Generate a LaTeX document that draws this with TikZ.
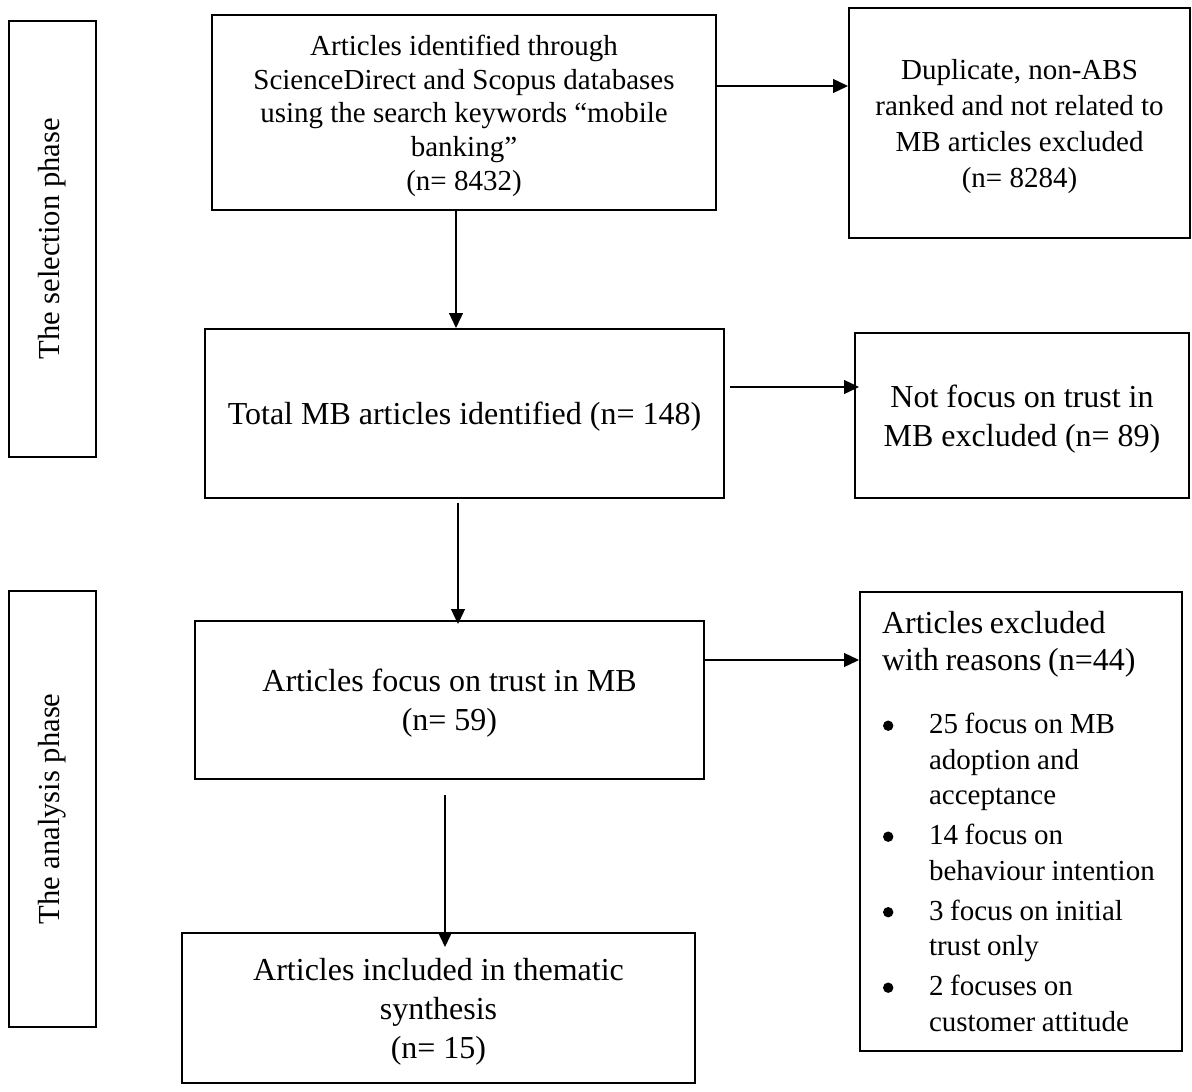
\documentclass[tikz,border=0pt]{standalone}
\usepackage{fontspec}
\setmainfont{Liberation Serif}
\usetikzlibrary{arrows.meta}

\newcommand\exclitem[1]{\par\vspace{2.25pt}\hangindent=23.5pt\hangafter=1\noindent
  \makebox[23.5pt][l]{\hspace{0.5pt}\tikz[baseline=-4pt]\fill (0,0) circle (2.6pt);}#1}

\tikzset{
  big/.style={font=\fontsize{16}{19.5}\selectfont},
  small/.style={font=\fontsize{14.5}{16.85}\selectfont},
  frame/.style={draw,line width=1pt,align=center,inner sep=0pt},
  box/.style={frame,text depth=0pt},
  phase/.style={frame,font=\fontsize{15.3}{18}\selectfont,rotate=90,minimum width=218pt,minimum height=43.5pt},
  arr/.style={-{Triangle[length=7.5pt,width=7pt]},line width=0.65pt}
}

\begin{document}
\begin{tikzpicture}[x=0.5pt,y=-0.5pt]
\useasboundingbox (0,0) rectangle (1192,1091);
\foreach \n/\y/\t in {sel/239/The selection phase,ana/809/The analysis phase}
  \node[phase](\n) at (52.5,\y) {\t};

\node[box,small,minimum width=252pt,minimum height=97.5pt](ident) at (464,112.5)
  {Articles identified through\\ScienceDirect and Scopus databases\\using the search keywords ``mobile\\banking''\\(n= 8432)};
\node[box,font=\fontsize{14.5}{18}\selectfont,minimum width=170.5pt,minimum height=115pt](dup) at (1019.5,123)
  {Duplicate, non-ABS\\ranked and not related to\\MB articles excluded\\(n= 8284)};
\node[box,big,minimum width=259.5pt,minimum height=84.5pt](total) at (464.5,413.5)
  {Total MB articles identified (n= 148)};
\node[box,big,minimum width=167pt,minimum height=82.5pt](notf) at (1022,415.5)
  {Not focus on trust in\\MB excluded (n= 89)};
\node[box,big,minimum width=254.5pt,minimum height=79pt](focus) at (449.5,700)
  {Articles focus on trust in MB\\(n= 59)};
\node[box,big,minimum width=256.5pt,minimum height=75pt](incl) at (438.5,1008)
  {Articles included in thematic\\synthesis\\(n= 15)};
\node[frame,align=left,text width=139pt,inner xsep=11pt,minimum width=161pt,minimum height=229.5pt](excl) at (1021,821.5)
  {{\fontsize{16}{18.5}\selectfont Articles excluded\\with reasons (n=44)\par}
   \fontsize{14.5}{17.75}\selectfont\vspace{11.5pt}
   \exclitem{25 focus on MB\newline adoption and\newline acceptance}
   \exclitem{14 focus on\newline behaviour intention}
   \exclitem{3 focus on initial\newline trust only}
   \exclitem{2 focuses on\newline customer attitude}\par};

\draw[arr] ([yshift=13.25pt]ident.east) -- ([yshift=13.25pt]ident.east -| dup.west);
\draw[arr] ([xshift=-4pt]ident.south) -- ([xshift=-4pt]ident.south |- total.north);
\draw[arr] ([shift={(2.5pt,13.25pt)}]total.east) -- ([shift={(2.5pt,13.25pt)}]total.east -| notf.west);
\draw[arr] ([shift={(-3.25pt,-2pt)}]total.south) -- ([shift={(-3.25pt,-2pt)}]total.south |- focus.north);
\draw[arr] ([yshift=20pt]focus.east) -- ([yshift=20pt]focus.east -| excl.west);
\draw[arr] ([shift={(-2.25pt,-7.5pt)}]focus.south) -- ([shift={(-2.25pt,-7.5pt)}]focus.south |- incl.north);
\end{tikzpicture}
\end{document}
